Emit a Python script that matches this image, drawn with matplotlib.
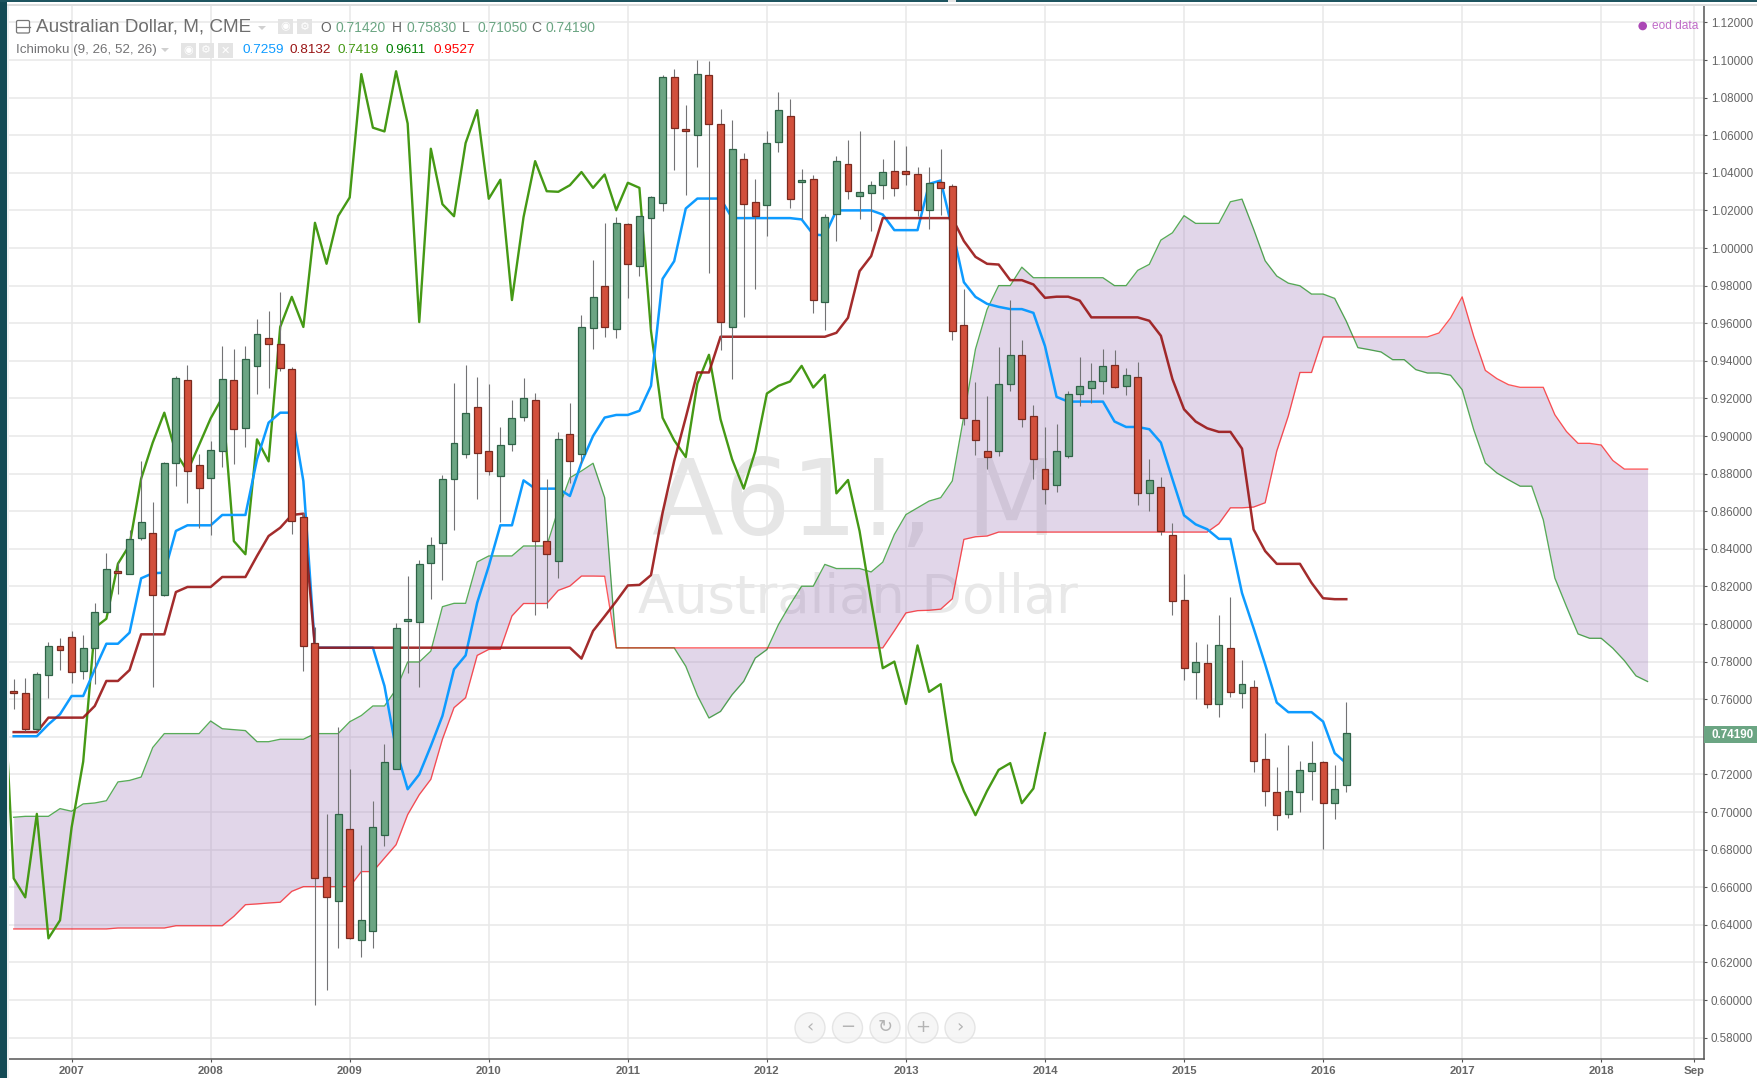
#!/usr/bin/env python3

import matplotlib
matplotlib.use('Agg')
import matplotlib.pyplot as plt
import matplotlib.patches as mpatches
from matplotlib.transforms import Bbox
import numpy as np

plt.rcParams['font.family'] = ['Liberation Sans', 'DejaVu Sans']

# months counted from Jan 2007, candles run Aug 2006 - Mar 2016
candle_opens = [
    .7645, .7631, .744, .7727, .7883,
    .7931, .775, .7874, .8066, .8284, .8268, .8459, .8484, .8154, .8855,
    .9296, .8844, .8778, .892, .9296, .9043, .9375, .9522, .9487, .9359,
    .8571, .79, .6652, .6525, .6911, .6317, .6365, .6876, .723, .8018,
    .8012, .8326, .8431, .8773, .8906, .9154, .892, .8789, .8959, .9101,
    .919, .8443, .8335, .9012, .8906, .9575, .98, .957, 1.0129, .9904,
    1.016, 1.024, 1.0911, 1.0634, 1.0602, 1.0921, 1.0662, .958, 1.0474, 1.0246,
    1.0228, 1.0563, 1.0703, 1.0351, 1.0368, .9712, 1.0182, 1.0446, 1.0279, 1.0294,
    1.0333, 1.0411, 1.0411, 1.0393, 1.0201, 1.035, 1.0329, .9593, .9084, .8919,
    .8919, .9279, .9432, .9107, .8826, .8737, .8894, .9221, .9253, .9293,
    .9379, .9267, .9313, .8695, .873, .8471, .8129, .7743, .7793, .7575,
    .7875, .7634, .7664, .7283, .7105, .6988, .7105, .7217, .7267, .7047,
    .7142]
candle_highs = [
    .771, .7715, .7746, .7904, .7927,
    .7963, .794, .811, .8376, .8332, .85, .8867, .865, .886, .932,
    .9379, .8902, .8973, .9478, .9465, .9478, .962, .9664, .9765, .9366,
    .8592, .7986, .699, .7452, .723, .6826, .7057, .7364, .8007, .8255,
    .8339, .8463, .8791, .928, .9379, .9313, .9274, .905, .919, .9308,
    .923, .8769, .9021, .9177, .9646, .9935, 1.0134, 1.0164, 1.0134, 1.017,
    1.0276, 1.0918, 1.0953, 1.0763, 1.0999, 1.0994, 1.074, 1.068, 1.0506, 1.0365,
    1.0625, 1.0829, 1.0794, 1.0418, 1.0388, 1.0182, 1.0489, 1.0577, 1.0623, 1.0359,
    1.0471, 1.0577, 1.0542, 1.043, 1.043, 1.0529, 1.0341, .978, .9285, .9213,
    .9473, .9726, .9513, .9164, .905, .9063, .924, .9418, .9386, .9462,
    .9457, .9364, .9396, .888, .878, .8539, .8264, .7903, .7893, .8046,
    .8146, .7811, .77, .7419, .7242, .7357, .7272, .7378, .7272, .7251,
    .7583]
candle_lows = [
    .7546, .743, .743, .7608, .7755,
    .7688, .7706, .768, .8066, .8158, .8268, .8447, .7667, .8149, .8733,
    .8642, .8512, .8472, .8835, .8853, .8941, .9221, .9257, .9345, .8477,
    .775, .5975, .6051, .6277, .6323, .6229, .6275, .6821, .7227, .7741,
    .7667, .8135, .8234, .85, .8881, .8667, .8791, .8544, .892, .908,
    .8046, .8083, .8246, .8752, .8858, .9464, .9526, .952, .9735, .985,
    .957, 1.0196, 1.0414, 1.028, 1.0432, .9868, .946, .9302, .9634, .978,
    1.0063, 1.0513, 1.0214, 1.0152, .9655, .9563, 1.0036, 1.0258, 1.0155, 1.009,
    1.0258, 1.0276, 1.0336, 1.0169, 1.0102, 1.0178, .9513, .9058, .8897, .8823,
    .8894, .924, .9048, .8773, .8636, .8704, .8881, .916, .9178, .9222,
    .9254, .9217, .8634, .8599, .8471, .8046, .7703, .76, .7552, .7504,
    .761, .7552, .7215, .7034, .6905, .6969, .7002, .7063, .6804, .6963,
    .7105]
candle_closes = [
    .7635, .7443, .7732, .7883, .7862,
    .7745, .7874, .8066, .8291, .8273, .8454, .8544, .8154, .8855, .9306,
    .8814, .8725, .8926, .9301, .9035, .9407, .9542, .9487, .9363, .855,
    .7883, .6647, .6546, .699, .6328, .6424, .6918, .7268, .798, .8028,
    .8321, .842, .8773, .8965, .9124, .8911, .8812, .8952, .9094, .9204,
    .8441, .8371, .8982, .8865, .958, .974, .958, 1.0134, .9916, 1.017,
    1.0269, 1.0911, 1.064, 1.062, 1.0928, 1.0662, .9606, 1.0528, 1.0233, 1.0169,
    1.0558, 1.0733, 1.0262, 1.0363, .9723, 1.0164, 1.0462, 1.0302, 1.0299, 1.0334,
    1.0404, 1.032, 1.0391, 1.0201, 1.0347, 1.032, .9558, .9097, .8977, .8888,
    .9279, .9432, .9089, .8876, .872, .8919, .9226, .9267, .929, .9373,
    .9258, .9325, .8695, .8766, .8494, .8122, .7765, .78, .7575, .7886,
    .7639, .768, .727, .7111, .6983, .7112, .7224, .726, .7047, .7125,
    .7419]

tenkan = [
    .7403, .7403, .7403, .7466, .752,
    .7617, .7617, .7759, .7895, .7895, .7954, .8243, .827, .8273, .8495,
    .8525, .8525, .8525, .858, .858, .858, .8876, .9071, .9124, .9124,
    .876, .7874, .7874, .7874, .7874, .7874, .7874, .767, .7333, .7121,
    .72, .7351, .7511, .7759, .7833, .8113, .8308, .8525, .8525, .8764,
    .872, .872, .872, .8681, .8858, .90, .9098, .9112, .9112, .9134,
    .9267, .9836, .993, 1.021, 1.0263, 1.0263, 1.0263, 1.0159, 1.0159, 1.0159,
    1.0159, 1.0159, 1.0159, 1.0152, 1.0072, 1.0067, 1.02, 1.02, 1.02, 1.02,
    1.0178, 1.0095, 1.0095, 1.0095, 1.0341, 1.0359, 1.0099, .9818, .974, .9703,
    .9687, .9675, .9675, .9655, .9478, .9208, .9183, .9183, .9183, .9183,
    .9077, .9048, .9048, .9036, .8965, .877, .8578, .853, .8504, .8453,
    .8453, .8165, .7978, .7785, .7582, .7531, .7531, .7531, .7481, .7313,
    .7259]
kijun = [
    .7425, .7425, .7425, .7502, .7502,
    .7502, .7502, .7564, .7697, .7697, .7755, .7945, .7945, .7945, .817,
    .8197, .8197, .8197, .825, .825, .825, .8362, .8468, .8512, .858,
    .8587, .7874, .7874, .7874, .7874, .7874, .7874, .7874, .7874, .7874,
    .7874, .7874, .7874, .7874, .7874, .7874, .7874, .7874, .7874, .7874,
    .7874, .7874, .7874, .7874, .7816, .7963, .8041, .8121, .8205, .8208,
    .826, .8592, .8867, .9098, .9338, .9338, .9528, .9528, .9528, .9528,
    .9528, .9528, .9528, .9528, .9528, .9528, .9549, .9629, .9877, .9957,
    1.0159, 1.0159, 1.0159, 1.0159, 1.0159, 1.0159, 1.0159, 1.0037, .9953, .9916,
    .9912, .9829, .9829, .9806, .9735, .9741, .9741, .972, .9631, .9631,
    .9631, .9631, .9631, .9613, .9533, .9302, .9142, .9077, .9041, .9022,
    .9022, .8933, .8503, .8388, .832, .832, .832, .8219, .8137, .8132,
    .8132]
# lagging line, Jul 2006 - Jan 2014
chikou = [
    .7883, .6647, .6546, .699, .6328, .6424,
    .6918, .7268, .798, .8028, .8321, .842, .8773, .8965, .9124, .8911,
    .8812, .8952, .9094, .9204, .8441, .8371, .8982, .8865, .958, .974,
    .958, 1.0134, .9916, 1.017, 1.0269, 1.0925, 1.064, 1.062, 1.094, 1.0662,
    .9606, 1.0528, 1.0233, 1.0169, 1.0558, 1.0733, 1.0262, 1.0363, .9723, 1.0164,
    1.0462, 1.0302, 1.0299, 1.0334, 1.0404, 1.032, 1.0391, 1.0201, 1.0347, 1.032,
    .9558, .9097, .8977, .8888, .9279, .9432, .9089, .8876, .872, .8919,
    .9226, .9267, .929, .9373, .9258, .9325, .8695, .8766, .8494, .8122,
    .7765, .78, .7575, .7886, .7639, .768, .727, .7111, .6983, .7112,
    .7224, .726, .7047, .7125, .7419]
# cloud edges, Aug 2006 - May 2018
senkou_a = [
    .6972, .6977, .6977, .6977, .7018,
    .7004, .7043, .7048, .706, .716, .7168, .7186, .7343, .7417, .7417,
    .7417, .7417, .7484, .7443, .7438, .7433, .7374, .7374, .7387, .7387,
    .7387, .7417, .7417, .7417, .748, .7513, .7564, .7564, .7652, .7798,
    .7798, .7856, .8092, .811, .811, .833, .8362, .8362, .8362, .8415,
    .8415, .8415, .861, .8778, .8814, .8855, .8672, .7873, .7873, .7873,
    .7873, .7873, .7873, .7775, .762, .75, .7535, .7624, .7695, .7819,
    .7864, .7997, .8103, .8201, .8201, .8317, .8295, .8295, .8295, .8277,
    .8329, .8476, .8582, .8618, .8654, .8672, .8761, .9107, .9462, .9673,
    .98, .98, .9898, .9842, .9842, .9842, .9842, .9842, .9842, .9842,
    .98, .98, .9881, .9913, 1.0042, 1.0081, 1.0172, 1.0131, 1.0131, 1.0131,
    1.0246, 1.026, 1.0101, .9932, .9851, .9813, .9799, .9755, .9755, .9732,
    .9611, .947, .9459, .9447, .9406, .9406, .9353, .9335, .9335, .9323,
    .9246, .9033, .8856, .8803, .8767, .8733, .8733, .8554, .8244, .8093,
    .7947, .7924, .7924, .7871, .7805, .7724, .7694]
senkou_b = [
    .6378, .6378, .6378, .6378, .6378,
    .6378, .6378, .6378, .6378, .6383, .6383, .6383, .6383, .6383, .6395,
    .6395, .6395, .6395, .6395, .6445, .6507, .6511, .6516, .652, .6578,
    .6603, .6603, .6603, .6603, .6603, .6683, .6683, .6755, .6826, .6986,
    .7092, .7174, .7387, .7555, .7608, .7833, .7865, .7865, .8043, .8109,
    .8109, .8109, .8179, .8202, .8255, .8255, .8254, .7873, .7873, .7873,
    .7873, .7873, .7873, .7873, .7873, .7873, .7873, .7873, .7873, .7873,
    .7873, .7873, .7873, .7873, .7873, .7873, .7873, .7873, .7873, .7873,
    .7873, .7964, .8059, .8071, .8073, .8079, .8134, .845, .8464, .8468,
    .8489, .8489, .8489, .8489, .8489, .8489, .8489, .8489, .8489, .8489,
    .8489, .8489, .8489, .8489, .8489, .8489, .8489, .8489, .8489, .8533,
    .8618, .8618, .8622, .8645, .892, .9107, .9338, .9338, .9527, .9527,
    .9527, .9527, .9527, .9527, .9527, .9527, .9527, .9527, .9548, .9628,
    .974, .953, .9349, .9305, .9273, .9259, .9259, .9259, .9113, .9024,
    .8961, .8961, .8952, .887, .8824, .8824, .8824]

price_ticks = [.58, .60, .62, .64, .66, .68, .70, .72, .74, .76, .78, .80, .82,
               .84, .86, .88, .90, .92, .94, .96, .98, 1.00, 1.02, 1.04, 1.06,
               1.08, 1.10, 1.12]
month_ticks = [0, 12, 24, 36, 48, 60, 72, 84, 96, 108, 120, 132, 140]
month_labels = ['2007', '2008', '2009', '2010', '2011', '2012', '2013', '2014',
                '2015', '2016', '2017', '2018', 'Sep']
last_close = 0.7419
hidden_tick = .74

UP = '#6ba583'
DOWN = '#d2503c'
UP_EDGE = '#2f6347'
DOWN_EDGE = '#7a2a1f'
W, H = 1757, 1078

fig = plt.figure(figsize=(W / 100, H / 100), dpi=100, facecolor='white')
ax = fig.add_axes([9 / W, 1 - 1059 / H, (1704 - 9) / W, (1059 - 6) / H])
ax.set_xlim(-5.403, 140.87)
ax.set_ylim(1.12 - (1059 - 22.4) / 1880, 1.12 + (22.4 - 6) / 1880)

months = np.arange(-5, 111)
opens = np.array(candle_opens)
closes = np.array(candle_closes)
rising = closes >= opens

ax.grid(True, color='#e8e8e8', linewidth=1.1)
ax.set_axisbelow(True)
for side in ['top', 'left']:
    ax.spines[side].set_visible(False)
for side in ['bottom', 'right']:
    ax.spines[side].set_color('#555555')
    ax.spines[side].set_linewidth(1.1)

ax.yaxis.tick_right()
ax.set_yticks(price_ticks)
# 0.74000 sits under the current price tag
ax.set_yticklabels(['' if p == hidden_tick else f'{p:.5f}' for p in price_ticks],
                   fontsize=8.4, color='#666666')
ax.set_xticks(month_ticks)
ax.set_xticklabels(month_labels, fontsize=8.2, color='#666666', fontweight='bold')
ax.tick_params(axis='y', length=2.5, width=0.8, color='#555555', pad=2.5)
ax.tick_params(axis='x', length=2.5, width=0.8, color='#555555', pad=2.5)
# the last date label gets cut by the price scale
for label in ax.get_xticklabels():
    label.set_clip_on(True)
    label.set_clip_box(Bbox([[0, 0], [1704, H]]))

# watermark
ax.text(0.4988, 0.4976, 'A61!, M', transform=ax.transAxes, fontsize=75.6, color='#e6e6e6',
        family='DejaVu Sans', ha='center', va='baseline', zorder=1.5)
ax.text(0.5009, 0.4235, 'Australian Dollar', transform=ax.transAxes, fontsize=38, color='#e8e8e8',
        family='DejaVu Sans', ha='center', va='baseline', zorder=1.5)

# cloud
cloud_months = np.arange(-5, 137)
ax.fill_between(cloud_months, senkou_a, senkou_b, color='#9e7ab9', alpha=0.3, linewidth=0, zorder=2)
ax.plot(cloud_months, senkou_a, color='#008000', linewidth=0.95, alpha=0.65, zorder=3)
ax.plot(cloud_months, senkou_b, color='#ff0000', linewidth=0.95, alpha=0.65, zorder=3)

ax.plot(np.arange(-6, 85), chikou, color='#459915', linewidth=1.7, zorder=4)
ax.plot(months, tenkan, color='#0e9bff', linewidth=1.8, zorder=4)
ax.plot(months, kijun, color='#991515', linewidth=1.8, alpha=0.9, zorder=4)

# candles
ax.vlines(months, candle_lows, candle_highs, color='#737375', linewidth=0.8, zorder=5)
ax.bar(months[rising], closes[rising] - opens[rising], bottom=opens[rising], width=0.6,
       color=UP, edgecolor=UP_EDGE, linewidth=0.9, zorder=6)
ax.bar(months[~rising], closes[~rising] - opens[~rising], bottom=opens[~rising], width=0.6,
       color=DOWN, edgecolor=DOWN_EDGE, linewidth=0.9, zorder=6)

# page furniture drawn in pixel coordinates on a top layer
top = fig.add_axes([0, 0, 1, 1], facecolor='none', zorder=10)
top.set_xlim(0, W)
top.set_ylim(H, 0)
top.axis('off')
top.add_patch(mpatches.Rectangle((0, 0), 6.5, H, color='#134a55', lw=0))
top.add_patch(mpatches.Rectangle((6.5, 6), 2.5, H, color='#eef1f2', lw=0))
top.add_patch(mpatches.Rectangle((0, 0), W, 2.3, color='#1e5560', lw=0))
top.add_patch(mpatches.Rectangle((948, 0), 8, 2.3, color='#e5e5e5', lw=0))
top.add_patch(mpatches.Rectangle((6.5, 4), W, 2, color='#dddddd', lw=0))

# collapse box and title row
top.add_patch(mpatches.FancyBboxPatch((16.5, 20.5), 13, 12.5, boxstyle='round,pad=0,rounding_size=1.5',
                                      fc='white', ec='#777777', lw=0.9))
top.plot([16.5, 29.5], [26.7, 26.7], color='#777777', lw=0.9)
top.text(36.5, 27, 'Australian Dollar, M, CME', fontsize=13.6, color='#6e6e6e', va='center')
top.add_patch(mpatches.Polygon([[258, 26], [266, 26], [262, 30]], color='#d0d0d0', lw=0))


def icon(x, y, size, glyph):
    top.add_patch(mpatches.Rectangle((x, y), size, size, color='#e4e4e4', lw=0))
    top.text(x + size / 2, y + size / 2, glyph, fontsize=8, color='white', ha='center',
             va='center', family='DejaVu Sans')


icon(278, 19, 15, '\u25c9')
icon(297, 19, 15, '\u2699')
for x, label, value in [(320.7, 'O', '0.71420'), (391.5, 'H', '0.75830'),
                        (462, 'L', '0.71050'), (531, 'C', '0.74190')]:
    top.text(x, 27.5, label, fontsize=10, color='#666666', va='center')
    top.text(x + 15, 27.5, value, fontsize=10, color=UP, va='center')

# indicator row
top.text(16, 49.5, 'Ichimoku (9, 26, 52, 26)', fontsize=9.65, color='#737375', va='center')
top.add_patch(mpatches.Polygon([[161, 48], [169, 48], [165, 52]], color='#d0d0d0', lw=0))
icon(181, 43, 14.5, '\u25c9')
icon(199, 43, 14.5, '\u2699')
icon(218, 43, 15, '\u2715')
for x, value, colour in [(242.6, '0.7259', '#0e9bff'), (290, '0.8132', '#991515'),
                         (337.5, '0.7419', '#459915'), (385, '0.9611', '#008000'),
                         (433, '0.9527', '#ff0000')]:
    top.text(x, 50, value, fontsize=9.7, color=colour, va='center')

# data source note
top.add_patch(mpatches.Circle((1642.7, 26), 4.3, color='#ab47b5', lw=0))
top.text(1652, 26, 'eod data', fontsize=8.6, color='#c06cc8', va='center')

# current price tag
top.add_patch(mpatches.Rectangle((1704, 726), 53, 16.5, color=UP, lw=0))
top.text(1712, 734.5, f'{last_close:.5f}', fontsize=8.4, color='white', va='center', fontweight='bold')

# navigation buttons
for x, glyph in zip([810, 847.5, 885, 923, 960], ['\u2039', '\u2212', '\u21bb', '+', '\u203a']):
    top.add_patch(mpatches.Circle((x, 1027.7), 15, fc='#f4f4f4', ec='#dedede', lw=1, alpha=0.75))
    top.text(x, 1027, glyph, fontsize=13, color='#b4b4b4', ha='center', va='center', family='DejaVu Sans')

plt.savefig('out.png', dpi=100)
